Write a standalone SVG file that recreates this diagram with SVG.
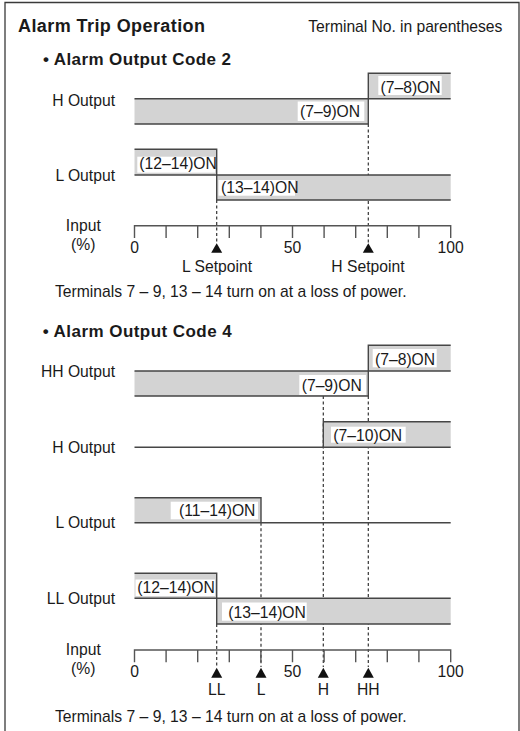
<svg xmlns="http://www.w3.org/2000/svg" width="520" height="731" viewBox="0 0 520 731">
<style>
text{font-family:"Liberation Sans",Arial,Helvetica,sans-serif;fill:#1a1a1a}
.t{font-size:15.7px}
.b{font-weight:bold}
.lab{font-size:15.7px;text-anchor:end}
.mid{font-size:15.7px;text-anchor:middle}
.fill{fill:#d3d3d3;stroke:none}
.out{fill:none;stroke:#464646;stroke-width:1.4}
.box{fill:#ffffff;stroke:none}
.axis{fill:none;stroke:#555;stroke-width:1.4}
.dash{fill:none;stroke:#333;stroke-width:1.2;stroke-dasharray:3 2.5}
.tri{fill:#111}
.frame{fill:none;stroke:#3a3a3a;stroke-width:1.3}
</style>
<path class="frame" d="M5 733 V2.5 H519 V733"/>
<g id="header">
<text class="b" x="18" y="31.5" font-size="18" textLength="187">Alarm Trip Operation</text>
<text class="t" x="308.3" y="32" textLength="194">Terminal No. in parentheses</text>
</g>
<g id="connectors">
<path class="dash" d="M216.7 200 V243"/>
<path class="dash" d="M368.3 124 V243"/>
<path class="dash" d="M216.7 624 V667"/>
<path class="dash" d="M261 522.7 V667"/>
<path class="dash" d="M323.3 396 V667"/>
<path class="dash" d="M368.3 396 V667"/>
</g>
<g id="code2-title">
<text class="b" x="43" y="64.5" font-size="17" textLength="188">• Alarm Output Code 2</text>
</g>
<g id="code2-h-output">
<text class="lab" x="115" y="106">H Output</text>
<rect class="fill" x="134.5" y="98.7" width="233.8" height="25.3"/>
<rect class="fill" x="368.3" y="73.3" width="82.4" height="25.4"/>
<path class="out" d="M134.5 98.7 H450.7 M134.5 124 H368.3 V73.3 H450.7"/>
<rect class="box" x="378.3" y="76" width="63.4" height="19"/>
<text class="t" x="380.5" y="92.5">(7–8)ON</text>
<rect class="box" x="297.7" y="101.5" width="66.6" height="19.5"/>
<text class="t" x="300" y="117.3">(7–9)ON</text>
</g>
<g id="code2-l-output">
<text class="lab" x="115" y="180.7">L Output</text>
<rect class="fill" x="134.5" y="149.3" width="82.2" height="25.7"/>
<rect class="fill" x="216.7" y="175" width="234" height="25"/>
<path class="out" d="M134.5 149.3 H216.7 V200 H450.7 M134.5 175 H450.7"/>
<rect class="box" x="137.3" y="156.7" width="77.7" height="16"/>
<text class="t" x="139.3" y="169.3">(12–14)ON</text>
<rect class="box" x="218.5" y="180" width="76.5" height="15.7"/>
<text class="t" x="221" y="193.3">(13–14)ON</text>
</g>
<g id="code2-axis">
<text class="mid" x="83.3" y="231">Input</text>
<text class="mid" x="83.3" y="249.5">(%)</text>
<path class="axis" d="M134.5 225.7 H450.7 M134.5 225 V238 M166.1 225.7 V238 M197.7 225.7 V238 M229.3 225.7 V238 M260.9 225.7 V238 M292.5 225.7 V238 M324.1 225.7 V238 M355.7 225.7 V238 M387.3 225.7 V238 M418.9 225.7 V238 M450.7 225 V238"/>
<text class="mid" x="134.5" y="252.5">0</text>
<text class="mid" x="292.5" y="252.5">50</text>
<text class="mid" x="450.7" y="252.5">100</text>
<path class="tri" d="M216.7 243.3 L222.2 252.7 L211.2 252.7 Z"/>
<path class="tri" d="M368.3 243.3 L373.8 252.7 L362.8 252.7 Z"/>
<text class="mid" x="217" y="272">L Setpoint</text>
<text class="mid" x="368" y="272">H Setpoint</text>
</g>
<g id="code2-note">
<text class="t" x="55" y="296.7" textLength="351.5">Terminals 7 – 9, 13 – 14 turn on at a loss of power.</text>
</g>
<g id="code4-title">
<text class="b" x="42.7" y="336.7" font-size="17" textLength="189">• Alarm Output Code 4</text>
</g>
<g id="code4-hh-output">
<text class="lab" x="115" y="377">HH Output</text>
<rect class="fill" x="134.5" y="371" width="233.8" height="25"/>
<rect class="fill" x="368.3" y="345.3" width="82.4" height="25.7"/>
<path class="out" d="M134.5 371 H450.7 M134.5 396 H368.3 V345.3 H450.7"/>
<rect class="box" x="372.7" y="349" width="64" height="18.3"/>
<text class="t" x="375" y="365">(7–8)ON</text>
<rect class="box" x="299.3" y="375" width="66.7" height="20"/>
<text class="t" x="301.7" y="390.7">(7–9)ON</text>
</g>
<g id="code4-h-output">
<text class="lab" x="115" y="453.3">H Output</text>
<rect class="fill" x="323.3" y="421.7" width="127.4" height="25.6"/>
<path class="out" d="M134.5 447.3 H323.3 V421.7 H450.7 M323.3 447.3 H450.7"/>
<rect class="box" x="331" y="426.7" width="74.7" height="16"/>
<text class="t" x="333.3" y="440.7">(7–10)ON</text>
</g>
<g id="code4-l-output">
<text class="lab" x="115" y="528.3">L Output</text>
<rect class="fill" x="134.5" y="497.7" width="126.5" height="25"/>
<path class="out" d="M134.5 497.7 H261 V522.7 M134.5 522.7 H450.7"/>
<rect class="box" x="170.7" y="501.7" width="87.3" height="17.6"/>
<text class="t" x="179" y="515.7">(11–14)ON</text>
</g>
<g id="code4-ll-output">
<text class="lab" x="115" y="604">LL Output</text>
<rect class="fill" x="134.5" y="573.3" width="82.2" height="25"/>
<rect class="fill" x="216.7" y="598.3" width="234" height="25.7"/>
<path class="out" d="M134.5 573.3 H216.7 V624 H450.7 M134.5 598.3 H450.7"/>
<rect class="box" x="135.5" y="579.5" width="79.5" height="16.5"/>
<text class="t" x="137.3" y="593.3">(12–14)ON</text>
<rect class="box" x="222" y="602.5" width="84.7" height="18.2"/>
<text class="t" x="228.3" y="618.3">(13–14)ON</text>
</g>
<g id="code4-axis">
<text class="mid" x="83.3" y="655">Input</text>
<text class="mid" x="83.3" y="673.5">(%)</text>
<path class="axis" d="M134.5 650 H450.7 M134.5 649.3 V662.3 M166.1 650 V662.3 M197.7 650 V662.3 M229.3 650 V662.3 M260.9 650 V662.3 M292.5 650 V662.3 M324.1 650 V662.3 M355.7 650 V662.3 M387.3 650 V662.3 M418.9 650 V662.3 M450.7 649.3 V662.3"/>
<text class="mid" x="134.5" y="676.5">0</text>
<text class="mid" x="292.5" y="676.5">50</text>
<text class="mid" x="450.7" y="676.5">100</text>
<path class="tri" d="M216.7 667.7 L222.2 677.7 L211.2 677.7 Z"/>
<path class="tri" d="M261 667.7 L266.5 677.7 L255.5 677.7 Z"/>
<path class="tri" d="M323.3 667.7 L328.8 677.7 L317.8 677.7 Z"/>
<path class="tri" d="M368.3 667.7 L373.8 677.7 L362.8 677.7 Z"/>
<text class="mid" x="216.7" y="695">LL</text>
<text class="mid" x="261" y="695">L</text>
<text class="mid" x="323.3" y="695">H</text>
<text class="mid" x="368.3" y="695">HH</text>
</g>
<g id="code4-note">
<text class="t" x="55" y="722" textLength="351.5">Terminals 7 – 9, 13 – 14 turn on at a loss of power.</text>
</g>
</svg>
